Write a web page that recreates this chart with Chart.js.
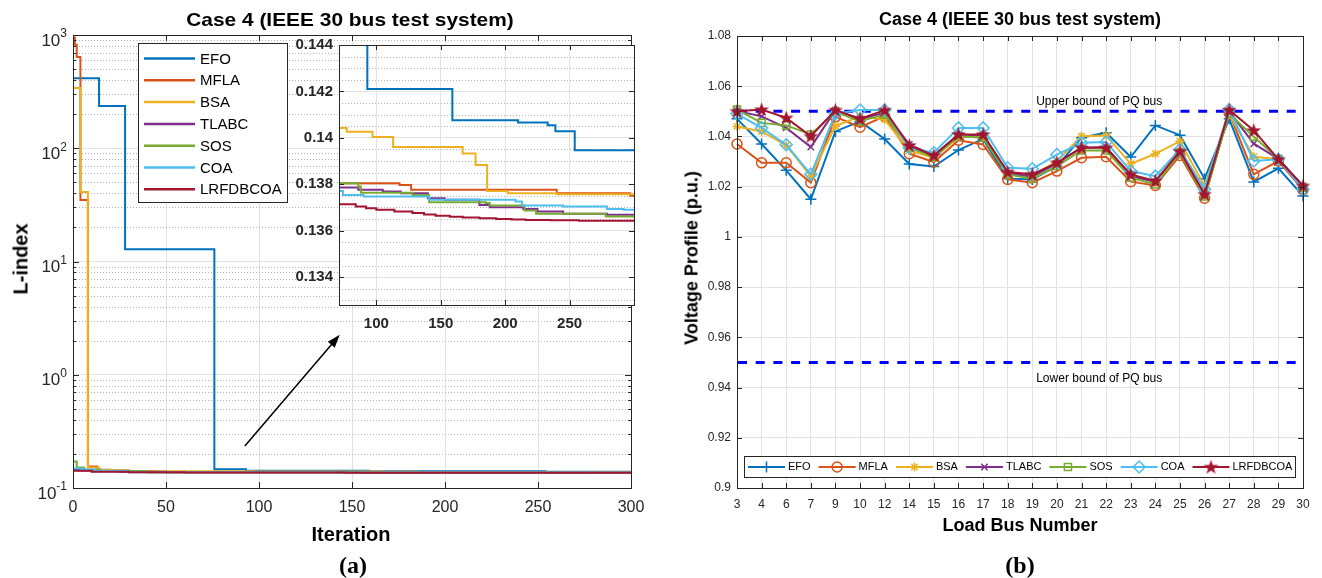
<!DOCTYPE html>
<html>
<head>
<meta charset="utf-8">
<title>Case 4 (IEEE 30 bus test system)</title>
<script src="https://cdn.jsdelivr.net/npm/chart.js@4.4.1/dist/chart.umd.min.js"></script>
<style>
  html, body { margin: 0; padding: 0; background: #fff; }
  body { position: relative; width: 1322px; height: 578px; overflow: hidden;
         font-family: 'Liberation Sans', Arial, Helvetica, sans-serif; color: #000; }
  canvas { position: absolute; }
  .txt { position: absolute; white-space: nowrap; font-weight: bold; transform: translate(-50%, -50%); }
  .vert { transform: translate(-50%, -50%) rotate(-90deg); }
  .cap { font-family: 'Liberation Serif', 'Times New Roman', serif; font-size: 24px; }
</style>
</head>
<body>
<canvas id="lossChart" width="660" height="578" style="left:0;top:0"></canvas>
<canvas id="zoomChart" width="350" height="310" style="left:290px;top:30px"></canvas>
<canvas id="voltChart" width="662" height="578" style="left:660px;top:0"></canvas>

<div class="txt" style="left:350px;top:20px;font-size:19px;transform:translate(-50%,-50%) scaleX(1.1)">Case 4 (IEEE 30 bus test system)</div>
<div class="txt vert" style="left:21px;top:259px;font-size:20px">L-index</div>
<div class="txt" style="left:351px;top:534px;font-size:20px">Iteration</div>
<div class="txt cap" style="left:353px;top:565px">(a)</div>

<div class="txt" style="left:1020px;top:19px;font-size:18px">Case 4 (IEEE 30 bus test system)</div>
<div class="txt vert" style="left:692px;top:258px;font-size:18px">Voltage Profile (p.u.)</div>
<div class="txt" style="left:1020px;top:525px;font-size:18px">Load Bus Number</div>
<div class="txt cap" style="left:1020px;top:565px">(b)</div>

<script>
const FONT = "'Liberation Sans', Arial, Helvetica, sans-serif";
Chart.defaults.font.family = FONT;
Chart.defaults.color = '#262626';

const methods = ['EFO', 'MFLA', 'BSA', 'TLABC', 'SOS', 'COA', 'LRFDBCOA'];
const methodColors = ['#0072BD', '#D95319', '#EDB120', '#7E2F8E', '#77AC30', '#4DBEEE', '#A2142F'];

// ---------- (a) L-index convergence ----------
const iterTicks = [0, 50, 100, 150, 200, 250, 300];
const lIndexTicks = [0.1, 1, 10, 100, 1000];
const zoomIterTicks = [100, 150, 200, 250];
const zoomLTicks = [0.134, 0.136, 0.138, 0.14, 0.142, 0.144];

// iteration at which the best value changes, and the new best value
const efoIter = [0, 14, 28, 76, 93, 159, 210, 233, 239, 254, 300];
const efoL = [415, 236, 12.8, 0.1465, 0.14211, 0.14076, 0.14066, 0.14054, 0.14029, 0.13947, 0.13947];

const mflaIter = [0, 1, 2, 4, 8, 13, 20, 40, 118, 127, 240, 297, 300];
const mflaL = [950, 820, 640, 35, 0.155, 0.145, 0.141, 0.13804, 0.13797, 0.13776, 0.13761, 0.13751, 0.13751];

const bsaIter = [0, 4, 8, 14, 30, 45, 77, 97, 113, 167, 177, 186, 202, 240, 300];
const bsaL = [340, 41, 0.152, 0.1445, 0.1412, 0.14043, 0.14026, 0.14004, 0.13961, 0.13933, 0.13883, 0.13771, 0.13761, 0.13757, 0.13757];

const tlabcIter = [0, 3, 10, 25, 50, 86, 105, 119, 140, 153, 180, 188, 214, 225, 245, 279, 300];
const tlabcL = [0.146, 0.143, 0.1405, 0.1392, 0.13786, 0.13776, 0.13769, 0.13761, 0.1374, 0.13733, 0.13711, 0.13701, 0.13694, 0.13683, 0.13673, 0.13669, 0.13669];

const sosIter = [0, 2, 6, 15, 40, 86, 88, 128, 141, 185, 188, 215, 224, 278, 300];
const sosL = [0.171, 0.152, 0.145, 0.141, 0.13804, 0.1379, 0.13764, 0.13754, 0.13723, 0.13719, 0.13709, 0.13687, 0.13673, 0.13661, 0.13661];

const coaIter = [0, 5, 12, 30, 74, 90, 141, 208, 213, 245, 279, 292, 300];
const coaL = [0.149, 0.146, 0.142, 0.13771, 0.13754, 0.13747, 0.13733, 0.13726, 0.13709, 0.13704, 0.13694, 0.1369, 0.1369];

const lrfdIter = [0, 10, 30, 60, 84, 92, 100, 114, 128, 137, 146, 157, 167, 180, 193, 205, 216, 235, 257, 300];
const lrfdL = [0.142, 0.1395, 0.138, 0.13714, 0.13704, 0.13697, 0.1369, 0.13683, 0.13676, 0.1367, 0.13664, 0.1366, 0.13657, 0.13654, 0.1365, 0.13648, 0.13646, 0.13645, 0.13643, 0.13643];

const convIters = [efoIter, mflaIter, bsaIter, tlabcIter, sosIter, coaIter, lrfdIter];
const convVals = [efoL, mflaL, bsaL, tlabcL, sosL, coaL, lrfdL];

// ---------- (b) voltage profile of the load buses ----------
const loadBuses = ['3', '4', '6', '7', '9', '10', '12', '14', '15', '16', '17', '18', '19', '20', '21', '22', '23', '24', '25', '26', '27', '28', '29', '30'];
const voltTicks = [0.9, 0.92, 0.94, 0.96, 0.98, 1, 1.02, 1.04, 1.06, 1.08];
const upperBound = 1.05;
const lowerBound = 0.95;

const efoV = [1.047, 1.037, 1.0265, 1.015, 1.042, 1.046, 1.039, 1.029, 1.028, 1.0346, 1.039, 1.0232, 1.0229, 1.0282, 1.0395, 1.0415, 1.0318, 1.0444, 1.0405, 1.0232, 1.047, 1.0219, 1.0273, 1.0163];
const mflaV = [1.037, 1.0295, 1.0295, 1.0216, 1.0478, 1.0437, 1.048, 1.0331, 1.0298, 1.0385, 1.0368, 1.0229, 1.0216, 1.0262, 1.0315, 1.0319, 1.022, 1.0205, 1.0324, 1.0154, 1.0494, 1.0249, 1.0302, 1.0187];
const bsaV = [1.044, 1.042, 1.0364, 1.0242, 1.0441, 1.048, 1.0467, 1.0344, 1.0315, 1.0397, 1.0399, 1.0253, 1.0242, 1.0302, 1.0401, 1.0404, 1.0291, 1.0331, 1.0381, 1.0203, 1.0487, 1.0319, 1.0309, 1.0196];
const tlabcV = [1.0501, 1.048, 1.0434, 1.0358, 1.0505, 1.047, 1.0494, 1.0368, 1.0324, 1.0408, 1.0404, 1.0253, 1.024, 1.0293, 1.0355, 1.0358, 1.0242, 1.0219, 1.0338, 1.017, 1.05, 1.0371, 1.0311, 1.0203];
const sosV = [1.0507, 1.0454, 1.0444, 1.0408, 1.0498, 1.0461, 1.0487, 1.0355, 1.0318, 1.0401, 1.0395, 1.0249, 1.0232, 1.0282, 1.0344, 1.0344, 1.0236, 1.0209, 1.0335, 1.0161, 1.0491, 1.0399, 1.0311, 1.0196];
const coaV = [1.049, 1.0434, 1.0367, 1.0249, 1.0491, 1.0505, 1.0505, 1.0355, 1.0335, 1.0434, 1.0434, 1.0275, 1.0271, 1.0328, 1.0375, 1.0378, 1.0262, 1.0242, 1.0348, 1.019, 1.0507, 1.0302, 1.0309, 1.019];
const lrfdV = [1.05, 1.0507, 1.0474, 1.0401, 1.0505, 1.047, 1.0505, 1.0364, 1.0324, 1.0408, 1.0408, 1.0258, 1.0249, 1.0295, 1.0355, 1.0355, 1.0249, 1.0223, 1.0341, 1.017, 1.0505, 1.0424, 1.0309, 1.0203];

const voltSeries = [efoV, mflaV, bsaV, tlabcV, sosV, coaV, lrfdV];

// minor grid lines: 2..9 inside each decade, and every 0.0005 in the zoom box
const lossMinor = [];
lIndexTicks.slice(0, -1).forEach(d => { for (let m = 2; m <= 9; m++) lossMinor.push(d * m); });
const zoomMinor = [];
for (let k = 266; k <= 288; k++) {
  const v = k * 0.0005;
  if (!zoomLTicks.some(t => Math.abs(t - v) < 1e-7)) zoomMinor.push(v);
}

// filled five-point star used as the LRFDBCOA marker
function pentagram(color) {
  const c = document.createElement('canvas');
  c.width = 17; c.height = 17;
  const g = c.getContext('2d');
  g.beginPath();
  for (let k = 0; k < 10; k++) {
    const r = k % 2 ? 3.1 : 7.8;
    const ang = -Math.PI / 2 + k * Math.PI / 5;
    g.lineTo(8.5 + r * Math.cos(ang), 9 + r * Math.sin(ang));
  }
  g.closePath();
  g.fillStyle = color;
  g.fill();
  return c;
}

const markerStyles = ['cross', 'circle', 'star', 'crossRot', 'rect', 'rectRot', pentagram(methodColors[6])];
const markerRadius = [5.5, 5, 4.5, 4.5, 5, 6, 7];

// box around the plot, inward ticks and dotted minor grid
const matlabBox = {
  id: 'matlabBox',
  beforeDraw(chart, args, opts) {
    if (!opts.fill) return;
    const a = chart.chartArea;
    chart.ctx.save();
    chart.ctx.fillStyle = opts.fill;
    chart.ctx.fillRect(a.left, a.top, a.width, a.height);
    chart.ctx.restore();
  },
  beforeDatasetsDraw(chart, args, opts) {
    const {ctx, chartArea: a, scales: {y}} = chart;
    ctx.save();
    ctx.beginPath();
    ctx.rect(a.left, a.top, a.width, a.height);
    ctx.clip();
    ctx.strokeStyle = '#b4b4b4';
    ctx.lineWidth = 1;
    ctx.setLineDash([1, 2]);
    (opts.minorY || []).forEach(v => {
      const py = Math.round(y.getPixelForValue(v)) + 0.5;
      ctx.beginPath();
      ctx.moveTo(a.left, py);
      ctx.lineTo(a.right, py);
      ctx.stroke();
    });
    ctx.restore();
  },
  afterDatasetsDraw(chart, args, opts) {
    const {ctx, chartArea: a, scales: {x, y}} = chart;
    const len = opts.tickLen || 5;
    ctx.save();
    ctx.strokeStyle = '#262626';
    ctx.lineWidth = 1;
    ctx.beginPath();
    x.ticks.forEach((t, i) => {
      const px = Math.round(x.getPixelForTick(i)) + 0.5;
      ctx.moveTo(px, a.bottom); ctx.lineTo(px, a.bottom - len);
      ctx.moveTo(px, a.top); ctx.lineTo(px, a.top + len);
    });
    y.ticks.forEach((t, i) => {
      const py = Math.round(y.getPixelForTick(i)) + 0.5;
      ctx.moveTo(a.left, py); ctx.lineTo(a.left + len, py);
      ctx.moveTo(a.right, py); ctx.lineTo(a.right - len, py);
    });
    if (opts.minorTicks) {
      opts.minorY.forEach(v => {
        const py = Math.round(y.getPixelForValue(v)) + 0.5;
        ctx.moveTo(a.left, py); ctx.lineTo(a.left + len / 2, py);
        ctx.moveTo(a.right, py); ctx.lineTo(a.right - len / 2, py);
      });
    }
    ctx.stroke();
    ctx.strokeRect(Math.round(a.left) + 0.5, Math.round(a.top) + 0.5, Math.round(a.width), Math.round(a.height));
    ctx.restore();
  }
};

// power-of-ten labels, arrow to the zoom box and the legend of (a)
const lossDecor = {
  id: 'lossDecor',
  afterDraw(chart) {
    const {ctx, chartArea: a, scales: {x, y}} = chart;
    ctx.save();
    ctx.fillStyle = '#262626';
    ctx.textBaseline = 'middle';
    lIndexTicks.forEach(v => {
      const py = y.getPixelForValue(v);
      const ex = String(Math.round(Math.log10(v)));
      const right = a.left - 6;
      ctx.font = `12px ${FONT}`;
      const ew = ctx.measureText(ex).width;
      ctx.textAlign = 'left';
      ctx.fillText(ex, right - ew, py - 1);
      ctx.font = `17px ${FONT}`;
      ctx.textAlign = 'right';
      ctx.fillText('10', right - ew, py + 6);
    });

    const x0 = x.getPixelForValue(92.4), y0 = y.getPixelForValue(0.235);
    const x1 = x.getPixelForValue(143.4), y1 = y.getPixelForValue(2.25);
    const ang = Math.atan2(y1 - y0, x1 - x0);
    ctx.strokeStyle = '#000';
    ctx.fillStyle = '#000';
    ctx.lineWidth = 1.5;
    ctx.beginPath();
    ctx.moveTo(x0, y0);
    ctx.lineTo(x1 - 10 * Math.cos(ang), y1 - 10 * Math.sin(ang));
    ctx.stroke();
    ctx.beginPath();
    ctx.moveTo(x1, y1);
    ctx.lineTo(x1 - 13 * Math.cos(ang) + 4.5 * Math.sin(ang), y1 - 13 * Math.sin(ang) - 4.5 * Math.cos(ang));
    ctx.lineTo(x1 - 13 * Math.cos(ang) - 4.5 * Math.sin(ang), y1 - 13 * Math.sin(ang) + 4.5 * Math.cos(ang));
    ctx.closePath();
    ctx.fill();

    const bx = a.left + 65, by = a.top + 8, bw = 149, bh = 159;
    ctx.fillStyle = '#fff';
    ctx.fillRect(bx, by, bw, bh);
    ctx.strokeStyle = '#262626';
    ctx.lineWidth = 1;
    ctx.strokeRect(Math.round(bx) + 0.5, Math.round(by) + 0.5, bw, bh);
    ctx.font = `15px ${FONT}`;
    ctx.textAlign = 'left';
    methods.forEach((m, i) => {
      const cy = by + 15.5 + i * 21.8;
      ctx.strokeStyle = methodColors[i];
      ctx.lineWidth = 2.5;
      ctx.beginPath();
      ctx.moveTo(bx + 6, cy);
      ctx.lineTo(bx + 57, cy);
      ctx.stroke();
      ctx.fillStyle = '#000';
      ctx.fillText(m, bx + 62, cy + 1);
    });
    ctx.restore();
  }
};

// PQ bus limits, their captions and the legend of (b)
const voltDecor = {
  id: 'voltDecor',
  beforeDatasetsDraw(chart) {
    const {ctx, chartArea: a, scales: {y}} = chart;
    ctx.save();
    ctx.strokeStyle = '#0000ff';
    ctx.lineWidth = 3;
    ctx.setLineDash([9, 8.7]);
    [upperBound, lowerBound].forEach(v => {
      const py = y.getPixelForValue(v);
      ctx.beginPath();
      ctx.moveTo(a.left + 1, py);
      ctx.lineTo(a.right, py);
      ctx.stroke();
    });
    ctx.restore();
  },
  afterDraw(chart) {
    const {ctx, chartArea: a, scales: {y}} = chart;
    ctx.save();
    ctx.fillStyle = '#000';
    ctx.font = `12px ${FONT}`;
    ctx.textAlign = 'center';
    ctx.textBaseline = 'middle';
    const tx = a.left + 0.64 * a.width;
    ctx.fillText('Upper bound of PQ bus', tx, y.getPixelForValue(upperBound) - 10);
    ctx.fillText('Lower bound of PQ bus', tx, y.getPixelForValue(lowerBound) + 16);

    ctx.font = `11px ${FONT}`;
    ctx.textAlign = 'left';
    const bx = a.left + 7, by = a.bottom - 32, bh = 21;
    let w = 4;
    methods.forEach(m => { w += 40 + ctx.measureText(m).width + 8; });
    w -= 5;
    ctx.fillStyle = '#fff';
    ctx.fillRect(bx, by, w, bh);
    ctx.strokeStyle = '#262626';
    ctx.lineWidth = 1;
    ctx.strokeRect(Math.round(bx) + 0.5, Math.round(by) + 0.5, Math.round(w), bh);
    let cx = bx + 4;
    const cy = by + bh / 2 + 0.5;
    methods.forEach((m, i) => {
      const c = methodColors[i];
      ctx.strokeStyle = c;
      ctx.lineWidth = 2;
      ctx.beginPath();
      ctx.moveTo(cx, cy);
      ctx.lineTo(cx + 37, cy);
      ctx.stroke();
      ctx.lineWidth = 1.5;
      ctx.fillStyle = i === 6 ? c : 'rgba(0,0,0,0)';
      Chart.helpers.drawPoint(ctx, {pointStyle: markerStyles[i], radius: markerRadius[i], rotation: 0, borderWidth: 1.5}, cx + 18.5, cy);
      ctx.fillStyle = '#000';
      ctx.fillText(m, cx + 40, cy);
      cx += 40 + ctx.measureText(m).width + 8;
    });
    ctx.restore();
  }
};

function convSets() {
  return methods.map((m, i) => ({
    label: m,
    data: convIters[i].map((it, k) => ({x: it, y: convVals[i][k]})),
    borderColor: methodColors[i],
    borderWidth: 2,
    stepped: true,
    pointRadius: 0,
    fill: false,
    order: methods.length - i
  }));
}

const setTicks = list => scale => { scale.ticks = list.map(v => ({value: v})); };
const gridOpts = {color: '#e2e2e2', drawTicks: false};

// (a) full convergence history on a log scale
new Chart(document.getElementById('lossChart'), {
  type: 'line',
  data: {datasets: convSets()},
  options: {
    responsive: false,
    animation: false,
    layout: {padding: {top: 35, right: 29, bottom: 0, left: 0}},
    plugins: {
      legend: {display: false},
      tooltip: {enabled: false},
      matlabBox: {minorY: lossMinor, minorTicks: true, tickLen: 6}
    },
    scales: {
      x: {
        type: 'linear', min: 0, max: 300,
        afterBuildTicks: setTicks(iterTicks),
        afterFit: s => { s.height = 90; },
        grid: gridOpts, border: {display: false},
        ticks: {font: {size: 16}, padding: 10, maxRotation: 0}
      },
      y: {
        type: 'logarithmic', min: 0.1, max: 1000,
        afterBuildTicks: setTicks(lIndexTicks),
        afterFit: s => { s.width = 73; },
        grid: gridOpts, border: {display: false},
        ticks: {display: false}
      }
    }
  },
  plugins: [matlabBox, lossDecor]
});

// (a) zoomed view of iterations 71-300
new Chart(document.getElementById('zoomChart'), {
  type: 'line',
  data: {datasets: convSets()},
  options: {
    responsive: false,
    animation: false,
    layout: {padding: {top: 13, right: 6, bottom: 0, left: 0}},
    plugins: {
      legend: {display: false},
      tooltip: {enabled: false},
      matlabBox: {minorY: zoomMinor, fill: '#fff', tickLen: 5}
    },
    scales: {
      x: {
        type: 'linear', min: 71, max: 300,
        afterBuildTicks: setTicks(zoomIterTicks),
        afterFit: s => { s.height = 35; },
        grid: gridOpts, border: {display: false},
        ticks: {font: {size: 15, weight: 'bold'}, padding: 10, maxRotation: 0}
      },
      y: {
        type: 'linear', min: 0.1328, max: 0.144,
        afterBuildTicks: setTicks(zoomLTicks),
        afterFit: s => { s.width = 49; },
        grid: gridOpts, border: {display: false},
        ticks: {font: {size: 15, weight: 'bold'}, padding: 6, callback: v => String(+v.toFixed(3))}
      }
    }
  },
  plugins: [matlabBox]
});

// (b) voltage at each load bus
new Chart(document.getElementById('voltChart'), {
  type: 'line',
  data: {
    labels: loadBuses,
    datasets: methods.map((m, i) => ({
      label: m,
      data: voltSeries[i],
      borderColor: methodColors[i],
      borderWidth: 2,
      tension: 0,
      pointStyle: markerStyles[i],
      pointRadius: markerRadius[i],
      pointBorderWidth: 1.5,
      pointBorderColor: methodColors[i],
      pointBackgroundColor: i === 6 ? methodColors[i] : 'rgba(0,0,0,0)',
      clip: false,
      order: methods.length - i
    }))
  },
  options: {
    responsive: false,
    animation: false,
    layout: {padding: {top: 36, right: 19, bottom: 0, left: 0}},
    plugins: {
      legend: {display: false},
      tooltip: {enabled: false},
      matlabBox: {tickLen: 5}
    },
    scales: {
      x: {
        type: 'category', offset: false,
        afterFit: s => { s.height = 90; },
        grid: gridOpts, border: {display: false},
        ticks: {font: {size: 12}, padding: 9, autoSkip: false, maxRotation: 0}
      },
      y: {
        min: 0.9, max: 1.08,
        afterBuildTicks: setTicks(voltTicks),
        afterFit: s => { s.width = 77; },
        grid: gridOpts, border: {display: false},
        ticks: {font: {size: 12}, padding: 6, callback: v => String(+v.toFixed(2))}
      }
    }
  },
  plugins: [matlabBox, voltDecor]
});
</script>
</body>
</html>
